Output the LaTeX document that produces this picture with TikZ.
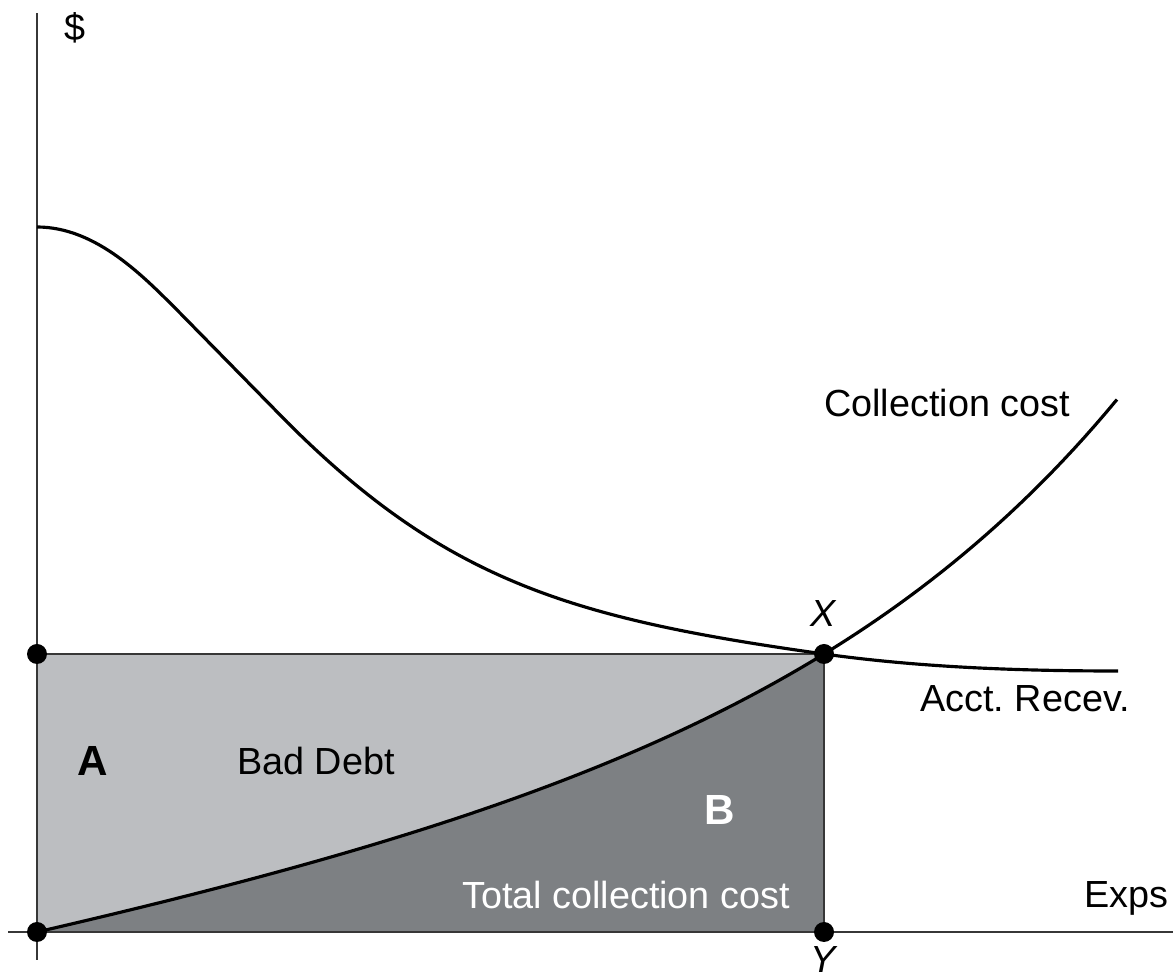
\documentclass[tikz,border=0pt]{standalone}
\usepackage{fontspec}
\setmainfont{Liberation Sans}
\usetikzlibrary{positioning}
\definecolor{baddebt}{RGB}{188,190,193}
\definecolor{collcost}{RGB}{125,128,131}
\definecolor{axisgray}{RGB}{55,55,55}
\tikzset{
  curve/.style={line width=1.8pt, black},
  axisline/.style={line width=1.1pt, axisgray},
  boxline/.style={line width=0.9pt, axisgray},
  bigdot/.style={circle, fill=black, inner sep=0pt, minimum size=0.4cm},
  lbl/.style={inner sep=0pt, anchor=base, font=\fontsize{21.5}{26}\selectfont},
  biglbl/.style={inner sep=0pt, anchor=base, font=\fontsize{24}{28}\selectfont\bfseries}
}

\begin{document}
\begin{tikzpicture}
\useasboundingbox (-0.74,-0.96) rectangle (22.72,18.64);
\coordinate (O) at (0,0);
\coordinate (A) at (0,5.56);
\coordinate (X) at (15.74,5.56);
\coordinate (Y) at (15.74,0);
\coordinate (ytop) at (0,18.38);
\coordinate (ybot) at (0,-0.56);
\coordinate (xleft) at (-0.58,0);
\coordinate (xright) at (22.72,0);
\coordinate (arstart) at (0,14.1);
\coordinate (arend) at (21.62,5.22);

% shaded areas
\fill[baddebt] (O) rectangle (X);
\begin{scope}
\clip (O) rectangle (X);
\fill[collcost] plot[domain=0:16, samples=80] (\x, {0.191*\x+0.266*(exp(0.15*\x)-1)}) |- (O);
\end{scope}
\draw[boxline] (A) -- (X) -- (Y);

% axes
\draw[axisline] (ybot) -- (ytop);
\draw[axisline] (xleft) -- (xright);

% curves
\draw[curve] plot[domain=0:21.6, samples=100] (\x, {0.191*\x+0.266*(exp(0.15*\x)-1)});
\draw[curve] (arstart) .. controls (1.2,14.1) and (2.16,13.08) .. (2.86,12.38)
  -- (5,10.2) .. controls (8.2,7) and (10.74,6.26) .. (X)
  .. controls (17.74,5.28) and (19.8,5.22) .. (arend);

\node[bigdot] (dO) at (O) {};
\node[bigdot] (dA) at (A) {};
\node[bigdot] (dX) at (X) {};
\node[bigdot] (dY) at (Y) {};

\node[lbl] (dollar) at (0.76,17.82) {\$};
\node[lbl] (collection) at (18.2,10.3) {Collection cost};
\node[lbl] (acct) at (19.76,4.4) {Acct.\ Recev.};
\node[lbl] (exps) at (21.78,0.48) {Exps};
\node[lbl] (bad) at (5.58,3.14) {Bad Debt};
\node[lbl, white] (total) at (11.78,0.46) {Total collection cost};
\node[biglbl] (labA) at (1.12,3.12) {A};
\node[biglbl, white] (labB) at (13.66,2.14) {B};
\node[lbl, anchor=south, above=0.34cm of dX] (labX) {\textit{X}};
\node[lbl, anchor=north, below=0.08cm of dY] (labY) {\textit{Y}};
\end{tikzpicture}
\end{document}
